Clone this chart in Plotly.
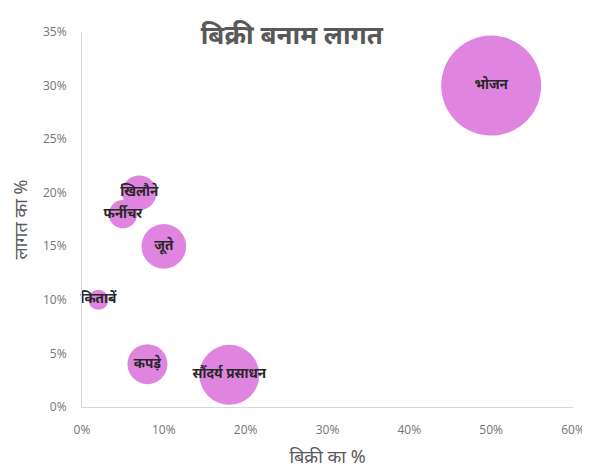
import plotly.graph_objects as go

# data
categories = ["भोजन", "खिलौने", "फर्नीचर", "जूते", "किताबें", "कपड़े", "सौंदर्य प्रसाधन"]
sales_pct = [0.50, 0.07, 0.05, 0.10, 0.02, 0.08, 0.18]
cost_pct = [0.30, 0.20, 0.18, 0.15, 0.10, 0.04, 0.03]
bubble_size = [25, 3, 2, 5, 1, 4, 9]

max_diameter = 100
sizeref = 2.0 * max(bubble_size) / (max_diameter ** 2)

fig = go.Figure()
fig.add_trace(go.Scatter(
    x=sales_pct,
    y=cost_pct,
    mode="markers+text",
    text=categories,
    textposition="middle center",
    textfont=dict(family="Noto Sans", size=13.5, color="#262626", weight="bold"),
    marker=dict(
        size=bubble_size,
        sizemode="area",
        sizeref=sizeref,
        color="#DF85E0",
        line=dict(width=0),
        opacity=1,
    ),
    cliponaxis=False,
    showlegend=False,
))

tick_font = dict(family="Open Sans", size=12, color="#737373")
title_font = dict(family="Noto Sans", size=18, color="#595959")

fig.update_layout(
    width=590,
    height=473,
    paper_bgcolor="white",
    plot_bgcolor="white",
    margin=dict(l=74, r=25, t=24, b=74, autoexpand=False),
    title=dict(
        text="<b>बिक्री बनाम लागत</b>",
        x=0.481,
        xanchor="center",
        y=0.943,
        yanchor="middle",
        font=dict(family="Noto Sans", size=26, color="#595959"),
    ),
    xaxis=dict(
        range=[0, 0.6],
        dtick=0.1,
        tickformat=".0%",
        tickfont=tick_font,
        ticklabelstandoff=12,
        showgrid=False,
        zeroline=False,
        showline=True,
        linecolor="#d9d9d9",
        linewidth=1,
        ticks="",
        title=dict(text="बिक्री का %", font=title_font, standoff=12),
    ),
    yaxis=dict(
        range=[0, 0.35],
        dtick=0.05,
        tickformat=".0%",
        tickfont=tick_font,
        ticklabelstandoff=12,
        showgrid=False,
        zeroline=False,
        showline=True,
        linecolor="#d9d9d9",
        linewidth=1,
        ticks="",
        title=dict(text="लागत का %", font=title_font, standoff=14),
    ),
)

fig.write_html("out.html")
